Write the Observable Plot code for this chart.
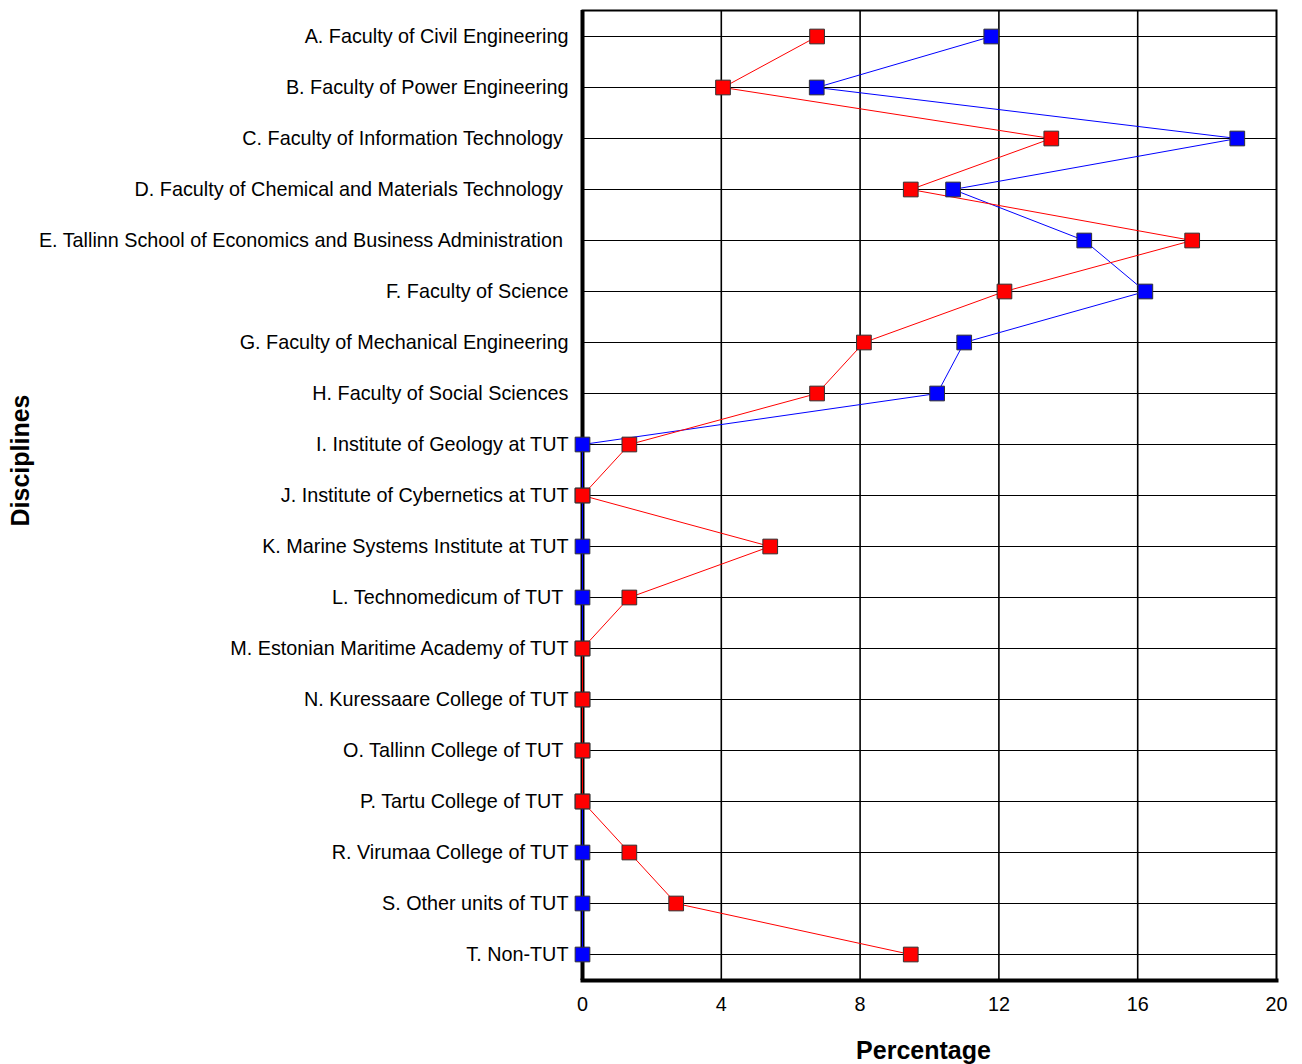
<!DOCTYPE html>
<html>
<head>
<meta charset="utf-8">
<script src="https://cdn.jsdelivr.net/npm/d3@7"></script>
<script src="https://cdn.jsdelivr.net/npm/@observablehq/plot@0.6"></script>
<style>
  html, body { margin: 0; padding: 0; background: #fff; }
  #chart svg { display: block; }
</style>
</head>
<body>
<div id="chart"></div>
<script>
const categories = [
  "A. Faculty of Civil Engineering",
  "B. Faculty of Power Engineering",
  "C. Faculty of Information Technology ",
  "D. Faculty of Chemical and Materials Technology ",
  "E. Tallinn School of Economics and Business Administration ",
  "F. Faculty of Science",
  "G. Faculty of Mechanical Engineering",
  "H. Faculty of Social Sciences",
  "I. Institute of Geology at TUT",
  "J. Institute of Cybernetics at TUT",
  "K. Marine Systems Institute at TUT",
  "L. Technomedicum of TUT ",
  "M. Estonian Maritime Academy of TUT",
  "N. Kuressaare College of TUT",
  "O. Tallinn College of TUT ",
  "P. Tartu College of TUT ",
  "R. Virumaa College of TUT",
  "S. Other units of TUT",
  "T. Non-TUT"
];
const seriesBlue = [11.78, 6.75, 18.87, 10.68, 14.46, 16.22, 11.0, 10.22, 0, 0, 0, 0, 0, 0, 0, 0, 0, 0, 0];
const seriesRed  = [6.76, 4.05, 13.51, 9.46, 17.57, 12.16, 8.11, 6.76, 1.35, 0, 5.41, 1.35, 0, 0, 0, 0, 1.35, 2.70, 9.46];
const xTicks = [0, 4, 8, 12, 16, 20];
const gridX = [4, 8, 12, 16];

const blueData = categories.map((c, i) => ({cat: c, value: seriesBlue[i]}));
const redData = categories.map((c, i) => ({cat: c, value: seriesRed[i]}));

const chart = Plot.plot({
  width: 1302,
  height: 1064,
  marginLeft: 582,
  marginRight: 26,
  marginTop: 10,
  marginBottom: 84,
  style: {fontFamily: "'Liberation Sans', Arial, sans-serif", fontSize: "19.8px", color: "#000", background: "#fff"},
  x: {domain: [0, 20], ticks: xTicks, tickSize: 0, tickPadding: 16, label: null, tickFormat: d => String(d)},
  y: {type: "point", domain: categories, padding: 0.49, tickSize: 0, tickPadding: 14, label: null},
  marks: [
    Plot.ruleY(categories, {stroke: "#000", strokeWidth: 1}),
    Plot.ruleX(gridX, {stroke: "#000", strokeWidth: 1.6}),
    Plot.frame({stroke: "#000", strokeWidth: 2}),
    Plot.ruleX([0], {stroke: "#000", strokeWidth: 4}),
    Plot.frame({anchor: "bottom", stroke: "#000", strokeWidth: 4}),
    Plot.line(blueData, {x: "value", y: "cat", stroke: "#0000ff", strokeWidth: 1}),
    Plot.line(redData, {x: "value", y: "cat", stroke: "#ff0000", strokeWidth: 1}),
    Plot.dot(blueData, {x: "value", y: "cat", symbol: "square", r: 8.3, fill: "#0000ff", stroke: "#333", strokeWidth: 1}),
    Plot.dot(redData, {x: "value", y: "cat", symbol: "square", r: 8.3, fill: "#ff0000", stroke: "#333", strokeWidth: 1}),
    Plot.text(["Percentage"], {frameAnchor: "bottom", lineAnchor: "bottom", dy: 78, dx: -6, fontSize: 25, fontWeight: "bold", fill: "#000"}),
    Plot.text(["Disciplines"], {frameAnchor: "left", rotate: -90, dx: -562, dy: -35, fontSize: 25, fontWeight: "bold", fill: "#000", textAnchor: "middle"})
  ]
});
document.getElementById("chart").appendChild(chart);
</script>
</body>
</html>
